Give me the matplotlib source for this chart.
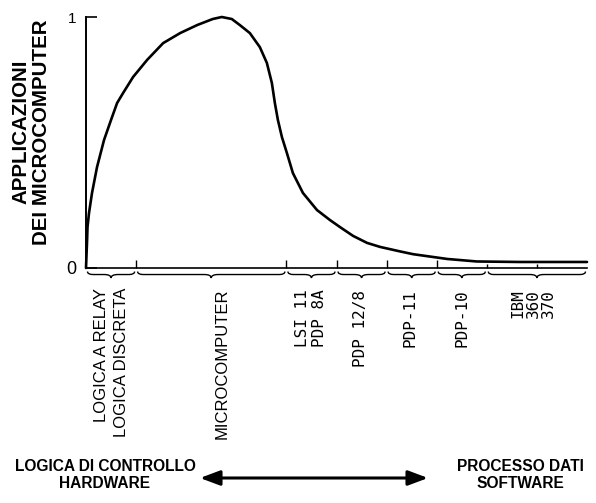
import numpy as np
import matplotlib.pyplot as plt
from matplotlib.path import Path
from matplotlib.patches import PathPatch, FancyArrowPatch

# curva (x: 0-100 lungo l'asse, y: 0-1)
curva_x = [0, 0.1, 0.2, 0.3, 0.6, 1.2, 2.2, 3.6, 5.0, 6.2, 7.4, 9.4, 12.2, 15.4, 18.8,
           22.2, 25.3, 27.1, 29.1, 30.7, 32.7, 34.7, 36.1, 37.1, 37.7, 38.3, 39.1, 40.1,
           41.3, 43.3, 46.1, 48.7, 50.7, 53.3, 56.1, 58.7, 62.7, 65.3, 72.1, 78.0, 86.6, 100]
curva_y = [0, 0.052, 0.10, 0.163, 0.219, 0.299, 0.402, 0.51, 0.59, 0.657, 0.697, 0.761,
           0.829, 0.896, 0.936, 0.968, 0.992, 1.0, 0.992, 0.968, 0.936, 0.880, 0.817, 0.737,
           0.657, 0.590, 0.522, 0.458, 0.378, 0.299, 0.231, 0.191, 0.163, 0.128, 0.10,
           0.084, 0.066, 0.055, 0.036, 0.026, 0.024, 0.024]

segmenti = [(0, 10), (10, 40), (40, 50), (50, 60), (60, 70), (70, 80), (80, 100)]
tick_grandi = [10, 40, 50, 60, 70]
tick_piccoli = [80, 90]

etichette = ["LOGICA A RELAY\nLOGICA DISCRETA", "MICROCOMPUTER", "LSI 11\nPDP 8A",
             "PDP 12/8", "PDP-11", "PDP-10", "IBM\n360\n370"]
etichette_x = [5.1, 27.1, 44.9, 54.7, 64.7, 75.0, 89.2]
mono = [False, False, True, True, True, True, True]

fig = plt.figure(figsize=(5.96, 5.03), dpi=100)
ax = fig.add_axes([86/596, 1-268/503, 501/596, 251/503])
ax.set_xlim(0, 100)
ax.set_ylim(0, 1)

ax.plot(curva_x, curva_y, color='black', lw=1.9, solid_capstyle='round',
        solid_joinstyle='round', clip_on=False)

for s in ['top', 'right']:
    ax.spines[s].set_visible(False)
ax.spines['left'].set_linewidth(1.4)
ax.spines['bottom'].set_linewidth(1.2)

ax.set_xticks(tick_grandi)
ax.set_xticks(tick_piccoli, minor=True)
ax.tick_params(axis='x', which='major', direction='in', length=6, width=1, labelbottom=False)
ax.tick_params(axis='x', which='minor', direction='in', length=3, width=1, labelbottom=False)
ax.set_yticks([0, 1])
ax.set_yticklabels(["0", "1"], family='Liberation Sans')
ax.tick_params(axis='y', direction='in', length=8, width=1.2, pad=7)
ax.get_yticklabels()[0].set_fontsize(13)
ax.get_yticklabels()[1].set_fontsize(11)

# parentesi graffe sotto l'asse
y_fine, y_corpo, y_punta = -0.014, -0.026, -0.040
for x0, x1 in segmenti:
    xm = (x0 + x1) / 2
    d = min(1.4, (x1 - x0) * 0.15)
    verts = [(x0 + 0.3, y_fine), (x0 + 0.3, y_corpo), (x0 + d, y_corpo),
             (xm - d, y_corpo), (xm, y_corpo), (xm, y_punta),
             (xm, y_corpo), (xm + d, y_corpo),
             (x1 - d, y_corpo), (x1 - 0.3, y_corpo), (x1 - 0.3, y_fine)]
    codes = [Path.MOVETO, Path.CURVE3, Path.CURVE3,
             Path.LINETO, Path.CURVE3, Path.CURVE3,
             Path.CURVE3, Path.CURVE3,
             Path.LINETO, Path.CURVE3, Path.CURVE3]
    ax.add_patch(PathPatch(Path(verts, codes), fill=False, lw=1.0, color='black', clip_on=False))

for testo, xe, m in zip(etichette, etichette_x, mono):
    if m:
        ax.text(xe, -0.086, testo, rotation=90, ha='center', va='top', multialignment='right',
                family='DejaVu Sans Mono', fontsize=11.5,
                linespacing=1.0 if testo.startswith("IBM") else 1.15)
    else:
        ax.text(xe, -0.08, testo, rotation=90, ha='center', va='top', multialignment='right',
                family='Liberation Sans', fontsize=12, linespacing=1.4)

fig.text(31/596, 1-132/503, "APPLICAZIONI\nDEI MICROCOMPUTER", rotation=90, ha='center',
         va='center', multialignment='center', family='Liberation Sans', fontweight='bold',
         fontsize=14.8, linespacing=1.08)

fig.text(105/596, 1-475/503, "LOGICA DI CONTROLLO\nHARDWARE", ha='center', va='center',
         family='Liberation Sans', fontweight='bold', fontsize=11.2, linespacing=1.15)
fig.text(520/596, 1-475/503, "PROCESSO DATI\nSOFTWARE", ha='center', va='center',
         family='Liberation Sans', fontweight='bold', fontsize=11.2, linespacing=1.15)
fig.add_artist(FancyArrowPatch(
    (200/596, 1-478/503), (428/596, 1-478/503), transform=fig.transFigure,
    arrowstyle='<|-|>,head_length=12,head_width=4.5', lw=2.2, color='black',
    mutation_scale=1, shrinkA=0, shrinkB=0))

fig.savefig("out.png", dpi=100)
